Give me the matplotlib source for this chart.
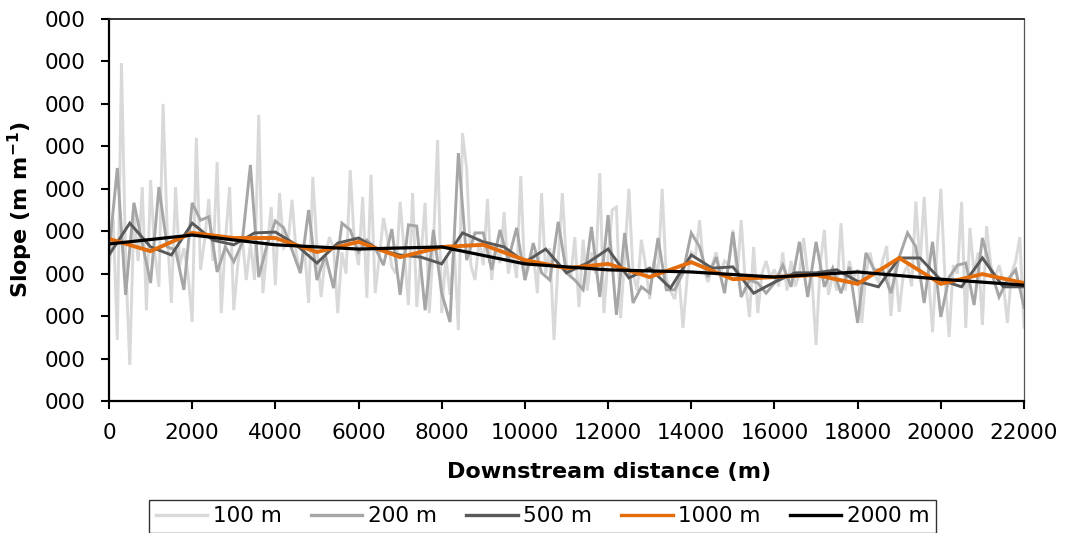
import numpy as np
import matplotlib
matplotlib.use('Agg')
import matplotlib.pyplot as plt

plt.rcParams['font.family'] = ['DejaVu Sans']
plt.rcParams['mathtext.fontset'] = 'dejavusans'

# slope series (one y unit = one gridline step)
s100 = [3.0, 4.3, 1.44, 7.96, 3.3, 0.85, 4.4, 3.3, 5.04, 2.14,
        5.21, 3.5, 2.69, 7.0, 4.0, 2.31, 5.04, 3.2, 3.6, 3.0,
        1.86, 6.20, 3.09, 3.8, 4.76, 3.3, 5.63, 2.07, 3.8, 5.04,
        2.14, 3.25, 3.9, 2.85, 3.7, 2.85, 6.74, 2.54, 3.6, 4.57,
        2.73, 4.90, 3.6, 3.7, 4.74, 3.5, 3.0, 3.6, 2.31, 5.28,
        3.6, 2.45, 3.4, 3.86, 3.6, 2.07, 3.5, 3.0, 5.44, 3.72,
        3.2, 4.81, 2.43, 5.33, 2.54, 3.4, 4.31, 3.8, 3.16, 3.0,
        4.69, 3.5, 2.26, 4.90, 2.21, 3.4, 4.67, 2.07, 3.7, 6.15,
        2.07, 3.4, 2.5, 3.6, 1.67, 6.31, 5.47, 3.2, 2.85, 3.8,
        3.2, 4.76, 2.85, 3.7, 3.25, 4.45, 3.0, 3.5, 2.9, 5.30,
        2.85, 3.2, 3.5, 2.54, 4.90, 3.0, 3.6, 1.44, 3.3, 4.90,
        3.2, 2.9, 3.86, 2.21, 3.8, 2.6, 3.5, 3.0, 5.37, 2.07,
        3.4, 4.5, 4.57, 1.95, 3.4, 5.0, 3.0, 2.6, 3.8, 3.2,
        2.4, 3.3, 3.0, 5.0, 2.9, 2.6, 2.4, 3.0, 1.72, 2.9,
        3.5, 3.4, 4.26, 3.1, 2.8, 3.2, 3.5, 3.0, 3.3, 3.2,
        4.03, 2.9, 4.26, 2.8, 1.98, 3.63, 2.07, 3.0, 3.3, 2.9,
        3.1, 2.7, 3.5, 2.6, 3.3, 2.7, 3.0, 3.84, 3.0, 2.9,
        1.32, 3.2, 4.03, 2.5, 3.0, 2.6, 4.19, 2.6, 3.3, 2.9,
        3.1, 1.84, 3.0, 3.5, 3.0, 2.8, 3.3, 3.65, 2.0, 3.2,
        2.1, 3.0, 3.2, 2.7, 4.7, 3.2, 4.81, 3.0, 1.62, 3.4,
        5.0, 2.9, 1.51, 3.2, 3.0, 4.69, 1.72, 4.08, 3.0, 3.5,
        1.79, 4.12, 3.2, 2.9, 3.2, 2.8, 1.84, 3.0, 3.3, 3.86,
        1.74]
s200 = [3.49, 5.49, 2.50, 4.67, 3.72, 2.78, 5.04, 3.63, 3.56, 2.62,
        4.67, 4.26, 4.34, 3.04, 3.63, 3.28, 3.72, 5.56, 2.92, 3.68,
        4.24, 4.08, 3.56, 3.02, 4.50, 2.85, 3.44, 2.66, 4.19, 4.03,
        3.51, 3.79, 3.61, 3.20, 4.05, 2.50, 4.15, 4.12, 2.14, 4.03,
        2.54, 1.86, 5.84, 3.32, 3.96, 3.96, 3.09, 4.03, 3.32, 4.08,
        2.85, 3.72, 3.02, 2.85, 4.22, 3.02, 2.85, 2.62, 4.10, 2.45,
        4.38, 2.03, 3.96, 2.31, 2.69, 2.54, 3.84, 2.62, 2.62, 3.02,
        3.96, 3.63, 2.92, 3.39, 2.54, 3.98, 2.45, 2.85, 2.78, 2.54,
        2.78, 3.20, 2.69, 3.75, 2.45, 3.75, 2.69, 3.13, 2.54, 3.16,
        1.84, 3.49, 3.09, 3.09, 2.54, 3.39, 3.96, 3.63, 2.31, 3.75,
        1.98, 2.92, 3.20, 3.25, 2.26, 3.84, 3.09, 2.45, 2.85, 3.09,
        2.21]
s500 = [3.44, 4.19, 3.63, 3.44, 4.19, 3.79, 3.68, 3.96, 3.98, 3.68,
        3.25, 3.72, 3.84, 3.56, 3.44, 3.39, 3.23, 3.96, 3.75, 3.63,
        3.27, 3.58, 3.02, 3.25, 3.58, 2.90, 3.13, 2.66, 3.44, 3.13,
        3.16, 2.54, 2.80, 3.02, 3.02, 3.09, 2.82, 2.69, 3.37, 3.37,
        2.85, 2.69, 3.37, 2.69, 2.69]
s1000 = [3.82, 3.53, 3.96, 3.84, 3.84, 3.51, 3.75, 3.39, 3.63, 3.68,
         3.32, 3.13, 3.23, 2.92, 3.27, 2.87, 2.92, 2.97, 2.76, 3.37,
         2.76, 2.99, 2.78]
s2000 = [3.70, 3.91, 3.68, 3.58, 3.63, 3.23, 3.09, 3.04, 2.92, 3.04,
         2.87, 2.73]

steps = [100, 200, 500, 1000, 2000]
labels = ['100 m', '200 m', '500 m', '1000 m', '2000 m']
colors = ['#d9d9d9', '#a6a6a6', '#595959', '#e46c0a', '#000000']
widths = [2.1, 2.1, 2.1, 2.8, 2.3]
series = [s100, s200, s500, s1000, s2000]

fig = plt.figure(figsize=(10.65, 5.33), dpi=100)
ax = fig.add_axes([109/1065, 1 - 401/533, 915/1065, 382/533])

for s, st, lab, c, w in zip(series, steps, labels, colors, widths):
    x = np.arange(len(s)) * st
    ax.plot(x, s, color=c, lw=w, label=lab, solid_joinstyle='miter')

ax.set_xlim(0, 22000)
ax.set_ylim(0, 9)
ax.set_xticks(np.arange(0, 22001, 2000))
ax.set_yticks(np.arange(0, 10))
ax.set_yticklabels(['000'] * 10)
ax.tick_params(direction='out', length=6, width=1.5, labelsize=15.5, color='black')
ax.tick_params(axis='y', pad=11)
ax.tick_params(axis='x', pad=10)

for side in ['left', 'bottom']:
    ax.spines[side].set_linewidth(1.6)
    ax.spines[side].set_color('black')
ax.spines['top'].set_linewidth(1.3)
ax.spines['top'].set_color('#222222')
ax.spines['right'].set_linewidth(0.9)
ax.spines['right'].set_color('#555555')

ax.set_xlabel('Downstream distance (m)', fontsize=16, fontweight='bold')
ax.xaxis.set_label_coords(0.547, -0.16)
ax.set_ylabel(r'Slope (m m$^{\mathbf{-1}}$)', fontsize=16, fontweight='bold')
ax.yaxis.set_label_coords(-0.081, 0.5)

leg = fig.legend(loc='upper center', bbox_to_anchor=(542.5/1065, 1 - 500/533),
                 ncol=5, fontsize=15.5, frameon=True, fancybox=False,
                 handlelength=2.4, handletextpad=0.25, columnspacing=1.35,
                 borderpad=0.3, borderaxespad=0)
leg.get_frame().set_edgecolor('black')
leg.get_frame().set_linewidth(1.0)
for line in leg.get_lines():
    line.set_linewidth(2.4)

fig.savefig('out.png', dpi=100)
